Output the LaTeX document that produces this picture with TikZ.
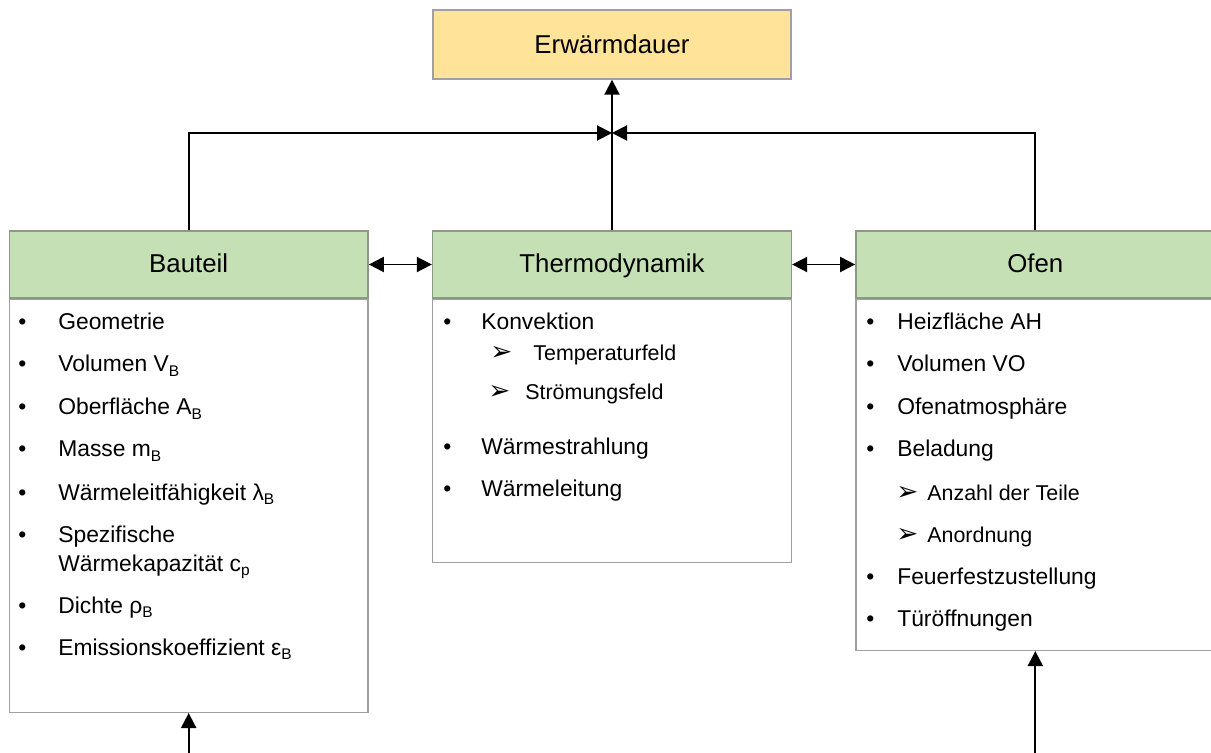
\documentclass[tikz,border=0pt]{standalone}
\usepackage{fontspec}
\setmainfont{Liberation Sans}
\newfontfamily\symfont{DejaVu Sans}
\usetikzlibrary{arrows.meta,positioning}
\definecolor{headgreen}{HTML}{C5E0B4}
\definecolor{headline}{HTML}{8A9A85}
\definecolor{goalyellow}{HTML}{FFE399}
\definecolor{boxline}{HTML}{A0A0A0}
\newcommand{\sbs}[1]{\raisebox{-2.6pt}{\fontsize{8.8pt}{9pt}\selectfont #1}}
\newcommand{\blt}[1]{\makebox[#1][l]{\textbullet}}
\newcommand{\arr}[1]{\makebox[#1][l]{\symfont\fontsize{15pt}{15pt}\selectfont ➢}}
\tikzset{
  goal/.style={rectangle, draw=boxline, line width=0.8pt, fill=goalyellow, minimum width=7.16cm, minimum height=1.38cm, font=\fontsize{14.7pt}{17pt}\selectfont}, % target box
  head/.style={rectangle, draw=headline, line width=0.8pt, fill=headgreen, minimum width=7.18cm, minimum height=1.34cm, text height=0.95em, text depth=0pt, font=\fontsize{14.7pt}{17pt}\selectfont},
  body/.style={rectangle, draw=boxline, line width=0.8pt, fill=white, minimum width=7.18cm},
  item/.style={anchor=base west, inner sep=0pt, font=\fontsize{13pt}{16pt}\selectfont},
  subitem/.style={anchor=base west, inner sep=0pt, font=\fontsize{12.2pt}{15pt}\selectfont},
  conn/.style={line width=1.1pt, -{Triangle[length=0.3cm,width=0.3cm]}},
  dconn/.style={line width=1.1pt, {Triangle[length=0.3cm,width=0.3cm]}-{Triangle[length=0.3cm,width=0.3cm]}}
}

\begin{document}
\begin{tikzpicture}[x=0.02cm, y=-0.02cm]
    \useasboundingbox (0,0) rectangle (1211,753);

    % Nodes
    \node[goal] (dauer) at (612,44.5) {Erwärmdauer};
    \node[head] (thermo) at (612,264.5) {Thermodynamik};
    \node[head, left=1.26cm of thermo] (bauteil) {Bauteil};
    \node[head, right=1.26cm of thermo] (ofen) {Ofen};

    \node[body, below=0pt of bauteil, minimum height=8.26cm] (bauteilbody) {};
    \node[body, below=0pt of thermo, minimum height=5.26cm] (thermobody) {};
    \node[body, below=0pt of ofen, minimum height=7.02cm] (ofenbody) {};

    % Bauteil
    \foreach \y/\t [count=\i] in {330/Geometrie, 372/{Volumen V\sbs{B}}, 415/{Oberfläche A\sbs{B}}, 457/{Masse m\sbs{B}}, 500/{Wärmeleitfähigkeit λ\sbs{B}}, 542/Spezifische, 613/{Dichte ρ\sbs{B}}, 655/{Emissionskoeffizient ε\sbs{B}}}
      \node[item] (bt\i) at (18,\y) {\blt{0.8cm}\t};
    \node[item] (bt6b) at (58,571) {Wärmekapazität c\sbs{p}};

    % Thermodynamik
    \node[item] (th1) at (443,330) {\blt{0.76cm}Konvektion};
    \node[subitem] (th2) at (490,360) {\arr{0.86cm}Temperaturfeld};
    \node[subitem] (th3) at (488,399) {\arr{0.74cm}Strömungsfeld};
    \node[item] (th4) at (443,454) {\blt{0.76cm}Wärmestrahlung};
    \node[item] (th5) at (443,496) {\blt{0.76cm}Wärmeleitung};

    % Ofen
    \foreach \y/\t [count=\i] in {330/Heizfläche AH, 372/Volumen VO, 415/Ofenatmosphäre, 457/Beladung, 584/Feuerfestzustellung, 626/Türöffnungen}
      \node[item] (of\i) at (866,\y) {\blt{0.62cm}\t};
    \node[subitem] (ofa) at (896,500) {\arr{0.62cm}Anzahl der Teile};
    \node[subitem] (ofb) at (896,542) {\arr{0.62cm}Anordnung};

    % Edges
    \coordinate (join) at (612,133);
    \coordinate (btin) at (bauteilbody.south |- 0,770);
    \coordinate (ofin) at (ofenbody.south |- 0,770);
    \draw[conn] (thermo.north) -- (dauer.south);
    \draw[conn] (bauteil.north) |- (join);
    \draw[conn] (ofen.north) |- (join);
    \draw[dconn] (bauteil) -- (thermo);
    \draw[dconn] (thermo) -- (ofen);
    \draw[conn] (btin) -- (bauteilbody.south);
    \draw[conn] (ofin) -- (ofenbody.south);

\end{tikzpicture}
\end{document}
